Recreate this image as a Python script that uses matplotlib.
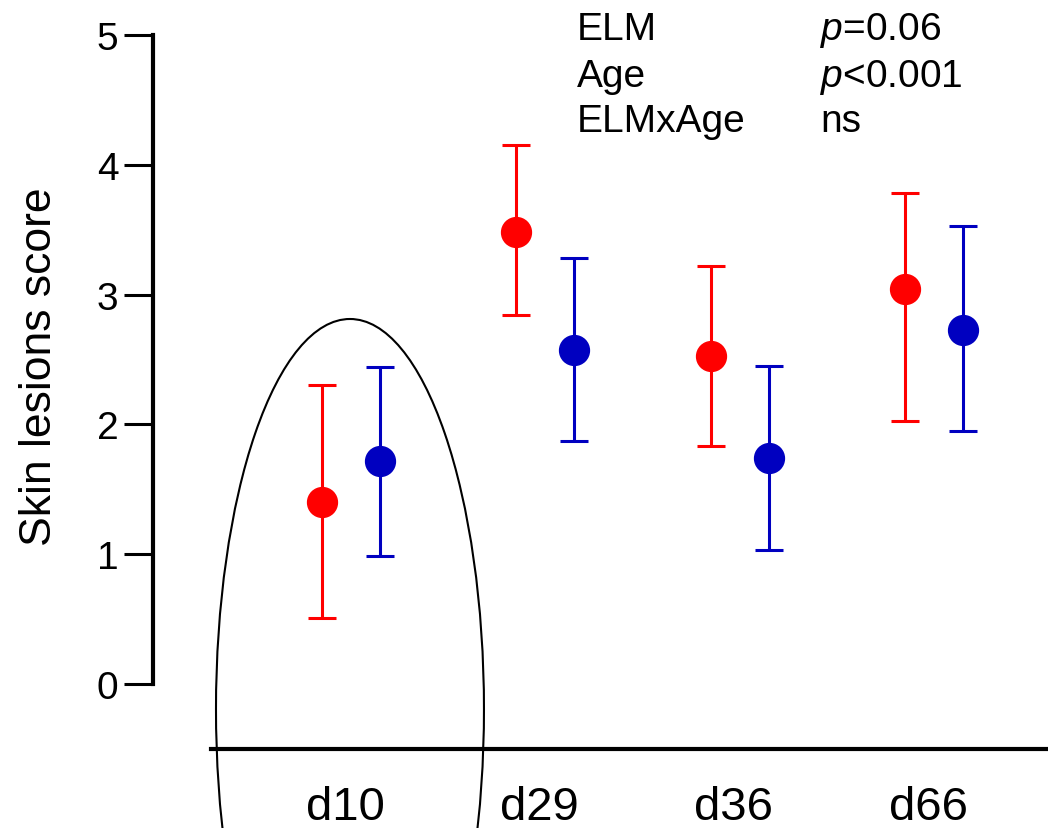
import numpy as np
import matplotlib.pyplot as plt
from matplotlib.patches import Ellipse

plt.rcParams['font.family'] = ['Liberation Sans', 'DejaVu Sans']
plt.rcParams['mathtext.fontset'] = 'custom'
plt.rcParams['mathtext.rm'] = 'Liberation Sans'
plt.rcParams['mathtext.it'] = 'Liberation Sans:italic'

# data
days = ['d10', 'd29', 'd36', 'd66']
red_mean = [1.40, 3.48, 2.53, 3.04]
red_hi = [2.30, 4.15, 3.22, 3.78]
red_lo = [0.51, 2.84, 1.83, 2.03]
blue_mean = [1.72, 2.57, 1.74, 2.73]
blue_hi = [2.44, 3.28, 2.45, 3.53]
blue_lo = [0.99, 1.87, 1.03, 1.95]

stats_names = ['ELM', 'Age', 'ELMxAge']
stats_vals = ['$\\it{p}$=0.06', '$\\it{p}$<0.001', 'ns']

x = np.arange(len(days))
off = 0.149

fig = plt.figure(figsize=(10.48, 8.29), dpi=100)
ax = fig.add_axes([0, 0, 1, 1])
ax.set_xlim(-1.806, 3.587)
ax.set_ylim(-1.109, 5.277)

rm = np.array(red_mean)
bm = np.array(blue_mean)
ax.errorbar(x - off, rm, yerr=[rm - np.array(red_lo), np.array(red_hi) - rm],
            fmt='o', color='#ff0000', ms=21.5, elinewidth=2.2, capsize=10, capthick=2.2, zorder=3)
ax.errorbar(x + off, bm, yerr=[bm - np.array(blue_lo), np.array(blue_hi) - bm],
            fmt='o', color='#0000c0', ms=21.5, elinewidth=2.2, capsize=10, capthick=2.2, zorder=3)

# circle around d10
ax.add_patch(Ellipse((-0.005, -0.193), 1.379, 6.01, fill=False, ec='black', lw=1.5, clip_on=False))

for s in ['top', 'right']:
    ax.spines[s].set_visible(False)
ax.spines['left'].set_position(('data', -1.018))
ax.spines['left'].set_bounds(0, 5)
ax.spines['left'].set_linewidth(3)
ax.spines['bottom'].set_position(('data', -0.50))
ax.spines['bottom'].set_bounds(-0.72, 3.587)
ax.spines['bottom'].set_linewidth(3)

ax.set_yticks(range(6))
ax.tick_params(axis='y', direction='out', length=21, width=2.2, labelsize=28, pad=4)
ax.set_xticks(x - 0.03)
ax.set_xticklabels(days)
ax.tick_params(axis='x', length=0, labelsize=34, pad=26)

ax.text(40 / 1048, 0.558, 'Skin lesions score', rotation=90, ha='center', va='center',
        fontsize=32, transform=ax.transAxes)

ys = [40, 87, 132]
for name, val, yp in zip(stats_names, stats_vals, ys):
    ax.text(577 / 1048, (829 - yp) / 829, name, fontsize=28, va='baseline', transform=ax.transAxes)
    ax.text(820 / 1048, (829 - yp) / 829, val, fontsize=28, va='baseline', transform=ax.transAxes)

fig.savefig('out.png', dpi=100)
